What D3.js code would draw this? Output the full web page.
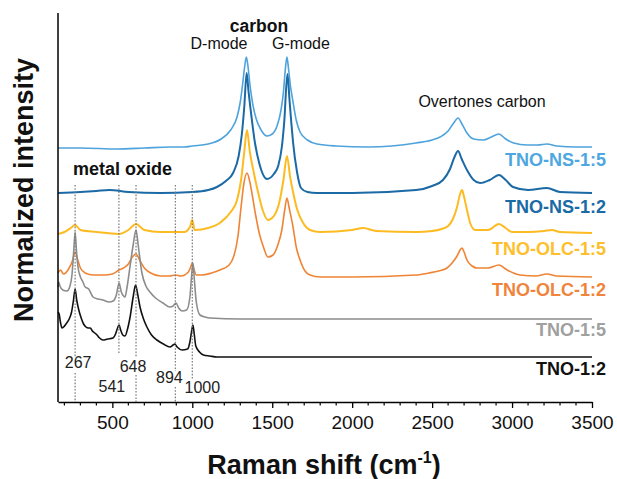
<!DOCTYPE html>
<html>
<head>
<meta charset="utf-8">
<script src="https://cdn.jsdelivr.net/npm/d3@7"></script>
<style>
  body { margin: 0; background: #fff; }
  text { font-family: "Liberation Sans", Arial, sans-serif; }
</style>
</head>
<body>
<div id="chart"></div>
<script>
var svgWidth = 617;
var svgHeight = 479;

var margin = {
  top: 13,
  right: 25,
  bottom: 77,
  left: 58
};

var width = svgWidth - margin.left - margin.right;
var height = svgHeight - margin.top - margin.bottom;

// spectra, [Raman shift (cm-1), stacked normalized intensity (a.u.)]
var tnoNs15 = [[160,254],[300,254],[530,253],[700,254],[860,255],[950,255],[1000,256],[1100,258],[1180,263],[1240,272],[1280,285],[1300,300],[1315,318],[1328,336],[1338,345],[1348,336],[1360,318],[1378,298],[1400,283],[1430,272],[1467,266],[1500,268],[1530,276],[1555,292],[1570,310],[1582,333],[1592,345],[1602,333],[1614,316],[1630,300],[1650,282],[1674,270],[1720,262],[1780,258],[1900,256],[2100,255],[2400,259],[2500,262],[2550,265],[2600,271],[2635,279],[2662,284],[2690,277],[2718,269],[2760,263],[2820,262],[2870,265],[2918,268],[2960,263],[3010,259],[3093,257],[3160,257],[3218,258],[3280,256],[3400,255],[3500,255]];

var tnoNs12 = [[160,209],[300,210],[400,211],[480,212],[600,210],[800,209],[1000,210],[1100,212],[1154,215],[1210,221],[1255,229],[1290,246],[1310,268],[1325,295],[1340,329],[1352,310],[1365,292],[1392,259],[1420,238],[1467,223],[1510,228],[1537,236],[1560,255],[1575,280],[1595,328],[1608,302],[1620,278],[1630,260],[1655,230],[1680,214],[1720,210],[1780,209],[2000,209],[2400,212],[2500,216],[2568,222],[2612,233],[2640,245],[2662,251],[2685,243],[2718,232],[2760,222],[2800,219],[2860,222],[2918,227],[2960,222],[3006,215],[3100,212],[3218,214],[3300,210],[3500,209]];

var tnoOlc15 = [[160,168],[200,170],[240,174],[267,177],[300,172],[400,170],[541,168],[600,172],[648,178],[700,172],[800,170],[950,170],[985,175],[1000,182],[1015,172],[1100,174],[1180,180],[1240,190],[1280,202],[1305,222],[1325,250],[1342,272],[1360,250],[1380,233],[1411,210],[1440,192],[1473,182],[1510,186],[1545,200],[1570,222],[1592,246],[1612,225],[1630,210],[1655,193],[1690,180],[1736,172],[1800,170],[2000,172],[2070,174],[2150,171],[2400,170],[2500,171],[2560,173],[2600,176],[2630,183],[2656,195],[2675,208],[2687,212],[2700,205],[2718,192],[2740,178],[2770,172],[2850,172],[2918,178],[2960,174],[3000,170],[3100,170],[3200,171],[3250,172],[3300,170],[3500,169]];

var tnoOlc12 = [[160,129],[175,132],[195,128],[230,134],[250,141],[267,150],[282,143],[300,134],[330,129],[380,127],[450,127],[500,128],[541,132],[570,134],[600,138],[625,145],[648,148],[670,142],[700,134],[740,129],[800,126],[860,126],[894,127],[930,126],[975,130],[990,135],[1000,139],[1010,133],[1025,127],[1060,127],[1120,129],[1173,132],[1230,137],[1260,146],[1285,165],[1305,195],[1322,218],[1342,229],[1360,220],[1375,207],[1395,188],[1420,168],[1445,155],[1473,145],[1505,147],[1535,157],[1560,172],[1578,192],[1592,204],[1606,194],[1630,175],[1650,155],[1674,142],[1705,131],[1736,127],[1800,125],[2000,125],[2400,127],[2480,129],[2540,131],[2593,134],[2630,140],[2656,146],[2675,152],[2687,154],[2700,150],[2718,142],[2750,136],[2781,134],[2850,134],[2918,137],[2970,132],[3050,127],[3150,126],[3218,128],[3280,126],[3500,125]];

var tno15 = [[160,115],[165,120],[172,116],[190,112],[216,111],[235,116],[248,128],[258,150],[267,170],[276,150],[287,133],[298,126],[316,120],[330,115],[342,114],[352,113],[365,109],[379,105],[410,103],[441,102],[480,100],[505,101],[525,107],[542,119],[556,110],[570,106],[579,105],[592,115],[610,135],[630,157],[648,172],[663,155],[685,129],[710,116],[735,110],[770,104],[817,99],[860,95],[880,96],[898,99],[915,94],[936,91],[965,92],[985,105],[995,125],[1004,139],[1013,122],[1025,100],[1048,87],[1080,85],[1111,84],[1300,83],[2000,83],[3500,83]];

var tno12 = [[160,90],[167,88],[175,80],[185,74],[195,75],[210,78],[230,83],[245,90],[257,102],[267,113],[277,102],[290,92],[305,84],[320,78],[335,75],[350,74],[362,74],[375,71],[390,69],[404,67],[420,64],[441,62],[470,63],[504,64],[520,68],[535,75],[542,77],[552,72],[565,67],[579,66],[595,73],[612,86],[630,105],[645,117],[658,108],[673,95],[695,83],[716,75],[745,67],[779,62],[820,58],[860,55],[880,57],[890,58],[905,55],[936,52],[970,53],[985,60],[995,70],[1004,77],[1012,68],[1022,56],[1045,50],[1070,47],[1110,46],[1154,45],[1300,45],[2000,45],[3500,45]];

var seriesNames = ["TNO-NS-1:5", "TNO-NS-1:2", "TNO-OLC-1:5", "TNO-OLC-1:2", "TNO-1:5", "TNO-1:2"];
var seriesData = [tnoNs15, tnoNs12, tnoOlc15, tnoOlc12, tno15, tno12];

// metal oxide bands (cm-1)
var peakPositions = [267, 541, 648, 894, 1000];

var xTickValues = [500, 1000, 1500, 2000, 2500, 3000, 3500];

// styles
var lineColors = ["#4ea3dc", "#1b6aa5", "#fdbb22", "#ef8434", "#8c8c8c", "#111111"];
var labelColors = ["#4ea7e0", "#1a6aa6", "#fdc02c", "#f0843a", "#a0a0a0", "#111111"];
var lineWidths = [1.6, 2, 2, 1.6, 1.6, 1.6];
var labelBaselines = [166, 213, 255, 296, 336, 375];

// peak label placement: [dx from band, baseline y, dotted gaps]
var peakLabelLayout = [
  {dx: 3, y: 368, segs: [[185, 357], [373, 402]]},
  {dx: -7, y: 392, segs: [[185, 353]]},
  {dx: -3, y: 372, segs: [[185, 357], [375, 402]]},
  {dx: -6, y: 383, segs: [[185, 371], [387, 402]]},
  {dx: 10, y: 393, segs: [[185, 380]]}
];

var svg = d3
  .select("#chart")
  .append("svg")
  .attr("width", svgWidth)
  .attr("height", svgHeight);

var chartGroup = svg.append("g")
  .attr("transform", `translate(${margin.left}, ${margin.top})`);

var xLinearScale = d3.scaleLinear()
  .domain([160, 3500])
  .range([0, width]);

var yLinearScale = d3.scaleLinear()
  .domain([0, height])
  .range([height, 0]);

// dotted band markers (page coords for y)
peakPositions.forEach(function(p, i) {
  var lay = peakLabelLayout[i];
  lay.segs.forEach(function(s) {
    svg.append("line")
      .attr("x1", margin.left + xLinearScale(p))
      .attr("x2", margin.left + xLinearScale(p))
      .attr("y1", s[0])
      .attr("y2", s[1])
      .attr("stroke", "#7a7a7a")
      .attr("stroke-width", 1.2)
      .attr("stroke-dasharray", "1.6,1.6");
  });
  svg.append("text")
    .attr("x", margin.left + xLinearScale(p) + lay.dx)
    .attr("y", lay.y)
    .attr("text-anchor", "middle")
    .attr("font-size", "16px")
    .attr("fill", "#222")
    .text(p);
});

var line = d3.line()
  .x(d => xLinearScale(d[0]))
  .y(d => yLinearScale(d[1]))
  .curve(d3.curveMonotoneX);

chartGroup.selectAll("path.spectrum")
  .data(seriesData)
  .enter()
  .append("path")
  .attr("class", "spectrum")
  .attr("d", d => line(d))
  .attr("fill", "none")
  .attr("stroke", (d, i) => lineColors[i])
  .attr("stroke-width", (d, i) => lineWidths[i])
  .attr("stroke-linejoin", "round");

// series labels
svg.selectAll("text.series")
  .data(seriesNames)
  .enter()
  .append("text")
  .attr("class", "series")
  .attr("x", 606)
  .attr("y", (d, i) => labelBaselines[i])
  .attr("text-anchor", "end")
  .attr("font-size", "18px")
  .attr("font-weight", "bold")
  .attr("fill", (d, i) => labelColors[i])
  .text(d => d);

// x axis
var bottomAxis = d3.axisBottom(xLinearScale)
  .tickValues(xTickValues)
  .tickSize(6)
  .tickSizeOuter(0)
  .tickFormat(d3.format("d"));

var xAxis = chartGroup.append("g")
  .attr("transform", `translate(0, ${height})`)
  .call(bottomAxis);

xAxis.select(".domain").attr("stroke", "#000").attr("stroke-width", 1.5);
xAxis.selectAll(".tick line").attr("stroke", "#000").attr("stroke-width", 1.3);
xAxis.selectAll(".tick text")
  .attr("font-size", "19px")
  .attr("font-family", "Liberation Sans, Arial, sans-serif")
  .attr("fill", "#111")
  .attr("dy", "0.95em");

var minorTicks = d3.range(200, 3500, 100).filter(v => v % 500 !== 0);
chartGroup.append("g")
  .selectAll("line")
  .data(minorTicks)
  .enter()
  .append("line")
  .attr("x1", d => xLinearScale(d))
  .attr("x2", d => xLinearScale(d))
  .attr("y1", height)
  .attr("y2", height + 3.5)
  .attr("stroke", "#000")
  .attr("stroke-width", 1.2);

// y axis, line only
chartGroup.append("line")
  .attr("x1", 0)
  .attr("x2", 0)
  .attr("y1", 0)
  .attr("y2", height)
  .attr("stroke", "#000")
  .attr("stroke-width", 1.5);

// axis titles
svg.append("text")
  .attr("transform", "rotate(-90)")
  .attr("x", -190)
  .attr("y", 33)
  .attr("text-anchor", "middle")
  .attr("font-size", "27px")
  .attr("font-weight", "bold")
  .attr("fill", "#111")
  .text("Normalized intensity");

var xTitle = svg.append("text")
  .attr("x", 324)
  .attr("y", 474)
  .attr("text-anchor", "middle")
  .attr("font-size", "27px")
  .attr("font-weight", "bold")
  .attr("fill", "#111");
xTitle.append("tspan").text("Raman shift (cm");
xTitle.append("tspan").attr("font-size", "16px").attr("dy", -11).text("-1");
xTitle.append("tspan").attr("dy", 11).text(")");

// band annotations
svg.append("text")
  .attr("x", 259).attr("y", 32)
  .attr("text-anchor", "middle")
  .attr("font-size", "17.5px")
  .attr("font-weight", "bold")
  .attr("fill", "#111")
  .text("carbon");

svg.append("text")
  .attr("x", 219).attr("y", 49)
  .attr("text-anchor", "middle")
  .attr("font-size", "16px")
  .attr("fill", "#111")
  .text("D-mode");

svg.append("text")
  .attr("x", 301).attr("y", 49)
  .attr("text-anchor", "middle")
  .attr("font-size", "16px")
  .attr("fill", "#111")
  .text("G-mode");

svg.append("text")
  .attr("x", 482).attr("y", 107)
  .attr("text-anchor", "middle")
  .attr("font-size", "16px")
  .attr("fill", "#111")
  .text("Overtones carbon");

svg.append("text")
  .attr("x", 73).attr("y", 175)
  .attr("font-size", "18px")
  .attr("font-weight", "bold")
  .attr("fill", "#111")
  .text("metal oxide");
</script>
</body>
</html>
